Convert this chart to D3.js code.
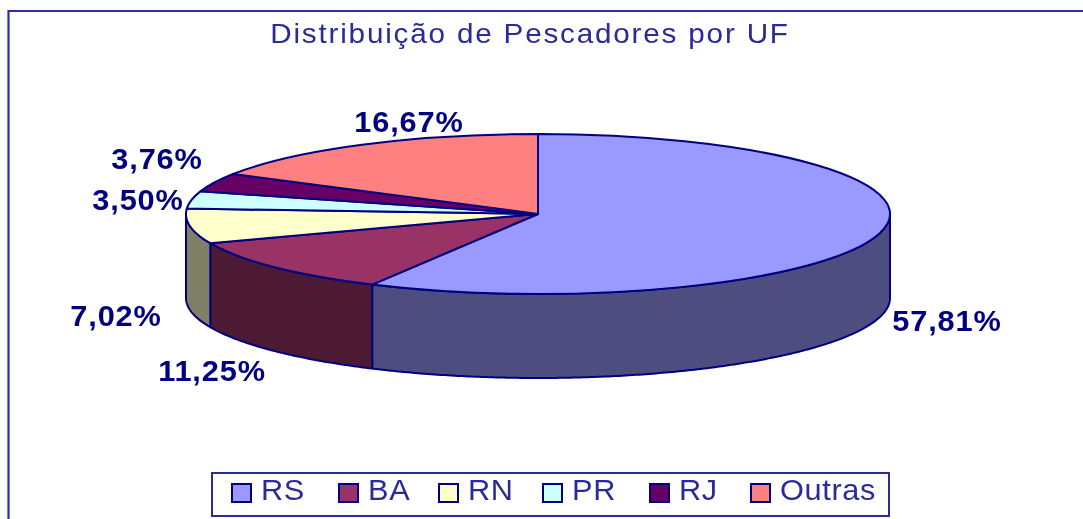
<!DOCTYPE html>
<html lang="en">
<head>
    <meta charset="UTF-8">
    <title>Distribuição de Pescadores por UF</title>
    <script src="https://d3js.org/d3.v7.min.js"></script>
    <style>
        html, body { margin: 0; padding: 0; background: #fff; overflow: hidden; }
        svg { display: block; filter: blur(0.5px); }
        text { font-family: "Liberation Sans", Arial, sans-serif; }
    </style>
</head>
<body>
    <div id="chart"></div>
    <script>
        // Data
        const categories = ["RS", "BA", "RN", "PR", "RJ", "Outras"];
        const values = [57.81, 11.25, 7.02, 3.50, 3.76, 16.67];
        const valueLabels = ["57,81%", "11,25%", "7,02%", "3,50%", "3,76%", "16,67%"];
        const topColours = ["#9999ff", "#993366", "#ffffcc", "#ccffff", "#660066", "#ff8080"];
        const sideColours = ["#4d4d80", "#4d1a33", "#808066", "#668080", "#330033", "#804040"];
        const titleText = "Distribuição de Pescadores por UF";

        const width = 1083, height = 519;
        const navy = "#000080";
        const stretch = 1.06; // the text in the original is a bit wider than normal

        const cx = 538, cy = 214, rx = 352, ry = 80, depth = 84;

        const svg = d3.select("#chart").append("svg")
            .attr("width", width)
            .attr("height", height);

        // chart frame, it runs off the bottom and right of the image
        svg.append("path")
            .attr("d", `M8.5,${height} V11 H${width}`)
            .attr("fill", "none")
            .attr("stroke", "#2f2fa5")
            .attr("stroke-width", 2.2);

        svg.append("text")
            .attr("transform", `translate(530,43) scale(${stretch},1)`)
            .attr("text-anchor", "middle")
            .attr("font-size", 28)
            .attr("letter-spacing", 1.7)
            .attr("fill", "#2a2a98")
            .text(titleText);

        const slices = d3.pie().sort(null)(values);

        // angle is clockwise from the top, as in d3.arc
        const px = a => cx + rx * Math.sin(a);
        const py = a => cy - ry * Math.cos(a);

        // side walls, only the part facing the viewer
        const wall = svg.append("g");
        slices.forEach((d, i) => {
            const a0 = Math.max(d.startAngle, Math.PI / 2);
            const a1 = Math.min(d.endAngle, Math.PI * 3 / 2);
            if (a1 <= a0) return;
            const angles = d3.range(a0, a1, 0.01).concat([a1]);
            const top = angles.map(a => [px(a), py(a)]);
            const bottom = angles.map(a => [px(a), py(a) + depth]).reverse();
            wall.append("path")
                .attr("d", d3.line()(top.concat(bottom)) + "Z")
                .attr("fill", sideColours[i])
                .attr("stroke", navy)
                .attr("stroke-width", 2)
                .attr("stroke-linejoin", "round");
        });

        // top face: d3.arc squashed into an ellipse
        const arc = d3.arc().innerRadius(0).outerRadius(rx);
        svg.append("g")
            .attr("transform", `translate(${cx},${cy}) scale(1,${ry / rx})`)
            .selectAll("path")
            .data(slices)
            .join("path")
            .attr("d", arc)
            .attr("fill", (d, i) => topColours[i])
            .attr("stroke", navy)
            .attr("stroke-width", 2)
            .attr("stroke-linejoin", "round")
            .attr("vector-effect", "non-scaling-stroke");

        // value labels
        const labelX = [947, 212, 116, 138, 157, 409];
        const labelY = [331, 381, 326, 210, 169, 132];
        svg.append("g")
            .selectAll("text")
            .data(valueLabels)
            .join("text")
            .attr("transform", (d, i) => `translate(${labelX[i]},${labelY[i]}) scale(${stretch},1)`)
            .attr("text-anchor", "middle")
            .attr("font-size", 29)
            .attr("font-weight", "bold")
            .attr("letter-spacing", 0.8)
            .attr("fill", navy)
            .text(d => d);

        // legend
        const legendX = [232, 339, 439, 543, 650, 751];
        const legend = svg.append("g");
        legend.append("rect")
            .attr("x", 212)
            .attr("y", 473)
            .attr("width", 677)
            .attr("height", 43)
            .attr("fill", "#fff")
            .attr("stroke", "#2a2a98")
            .attr("stroke-width", 2);
        const items = legend.selectAll("g")
            .data(categories)
            .join("g")
            .attr("transform", (d, i) => `translate(${legendX[i]},484)`);
        items.append("rect")
            .attr("width", 19)
            .attr("height", 18)
            .attr("fill", (d, i) => topColours[i])
            .attr("stroke", navy)
            .attr("stroke-width", 2);
        items.append("text")
            .attr("transform", `translate(29,16) scale(${stretch},1)`)
            .attr("font-size", 29)
            .attr("letter-spacing", 0.6)
            .attr("fill", "#2a2a98")
            .text(d => d);
    </script>
</body>
</html>
